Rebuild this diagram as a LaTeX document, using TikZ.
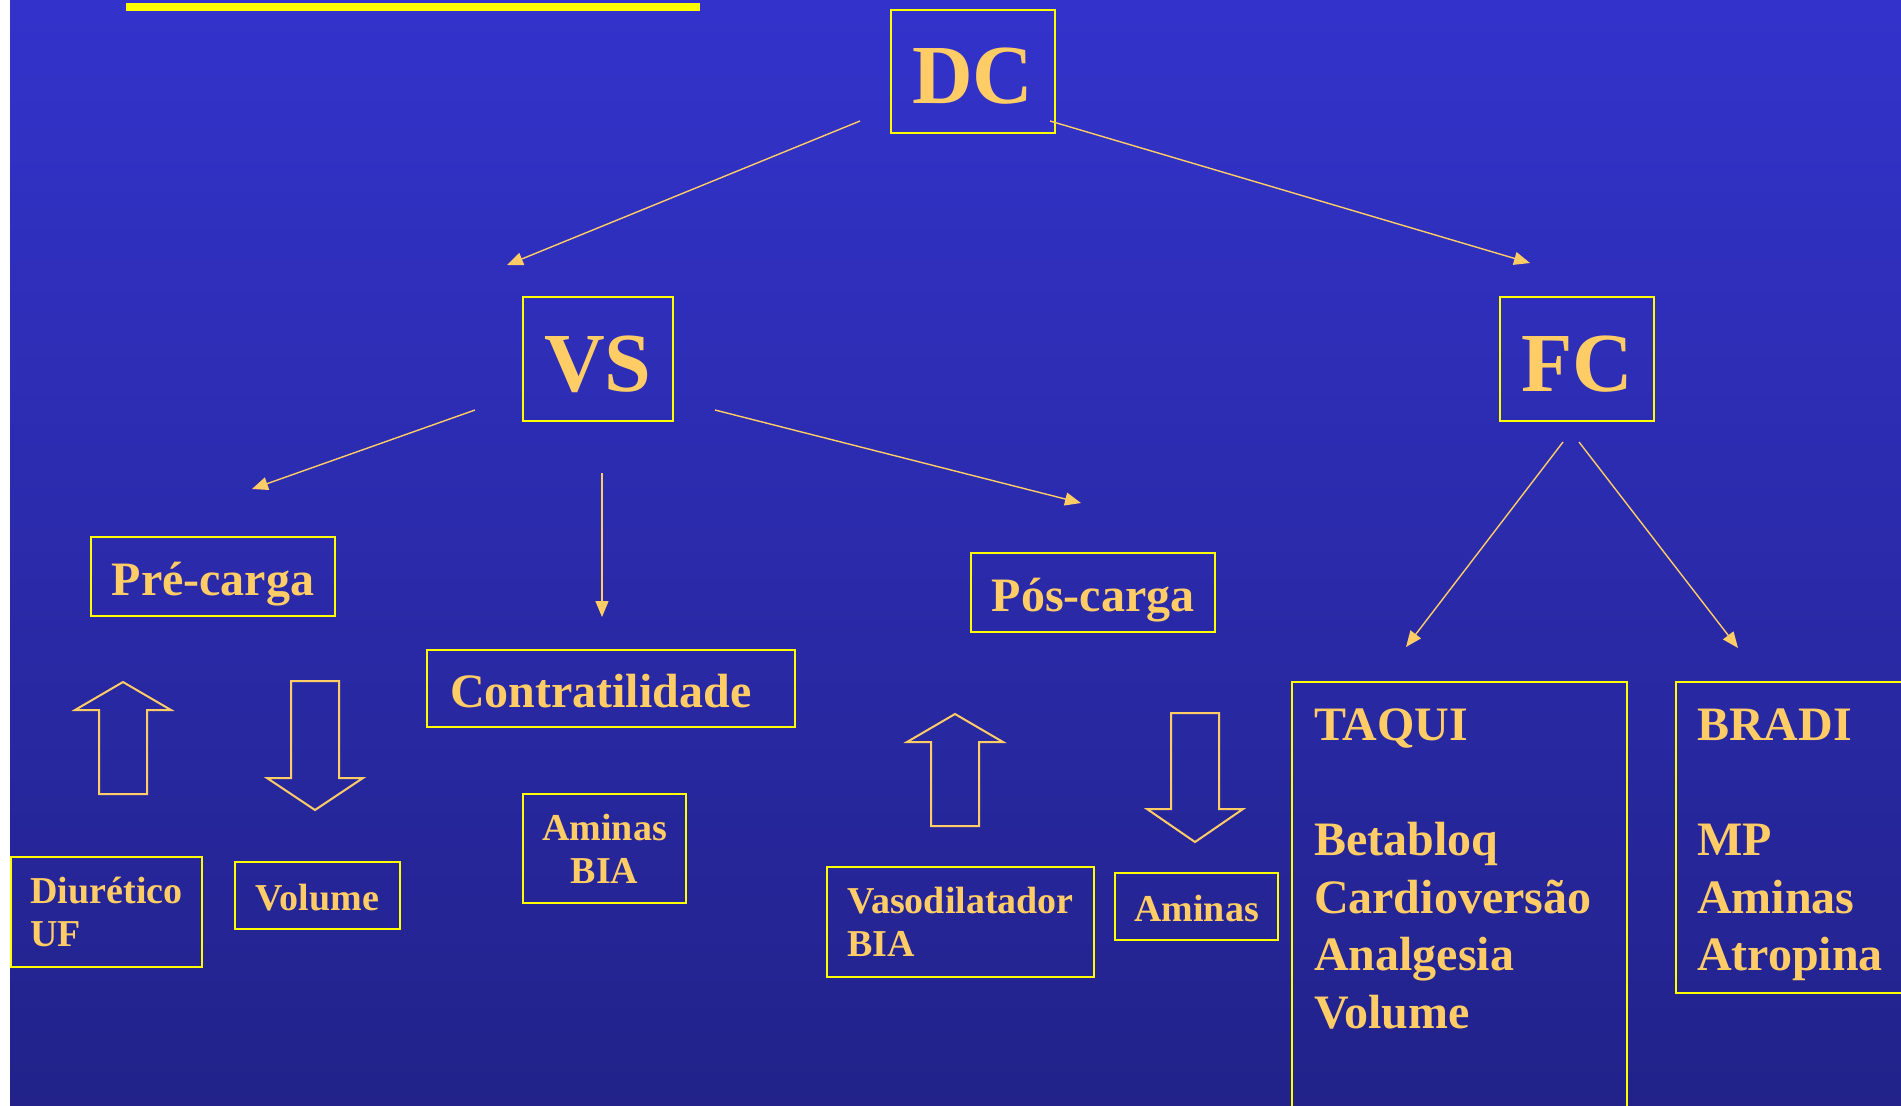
\documentclass[tikz,border=0pt]{standalone}
\usepackage{fontspec}
\setmainfont{Liberation Serif}
\usetikzlibrary{arrows.meta}
\definecolor{slidetop}{RGB}{51,51,204}
\definecolor{slidebot}{RGB}{34,34,138}
\definecolor{gold}{RGB}{255,204,102}
\definecolor{frame}{RGB}{255,255,0}
\begin{document}
\begin{tikzpicture}[x=0.5pt,y=-0.5pt,
  box/.style={draw=frame, line width=1pt, inner sep=0pt, text=gold, font=\bfseries},
  big/.style={box, font=\fontsize{42}{48}\selectfont\bfseries, text height=32pt, text depth=0pt, minimum height=62pt},
  mid/.style={box, font=\fontsize{24}{28}\selectfont\bfseries, text height=18.5pt, text depth=0pt, minimum height=39.5pt},
  small/.style={box, font=\fontsize{19}{21.5}\selectfont\bfseries},
  list/.style={box, anchor=north west, inner xsep=11pt, inner ysep=0pt, font=\fontsize{24}{28.75}\selectfont\bfseries},
  link/.style={draw=gold, line width=0.7pt, -{Triangle[length=8pt,width=6.5pt]}},
  hollow/.style={draw=gold, line width=1pt, line join=miter}]
\useasboundingbox (0,0) rectangle (1901,1105);
\clip (0,0) rectangle (1901,1105);
\fill[white] (0,0) rectangle (10,1105);
\shade[top color=slidetop, bottom color=slidebot] (10,0) rectangle (1901,1105);
\fill[frame] (126,3) rectangle (700,11);

\node[big, minimum width=82pt, minimum height=61.5pt] (dc) at (973,71.5) {DC};
\node[big, minimum width=75pt] (vs) at (598,359) {VS};
\node[big, minimum width=77pt] (fc) at (1577,359) {FC};

\node[mid, minimum width=122pt] (pre) at (213,576.5) {Pré-carga};
\node[mid, text width=161pt, inner xsep=11.5pt, align=left, minimum height=38.5pt] (contr) at (611,688.5) {Contratilidade};
\node[mid, minimum width=122pt] (pos) at (1093,592.5) {Pós-carga};

\node[small, minimum width=95.5pt, minimum height=55pt, align=left] (diur) at (106.5,912) {Diurético\\UF};
\node[small, minimum width=82.5pt, minimum height=33.5pt, text height=15pt, text depth=0pt] (vol) at (317.5,895.5) {Volume};
\node[small, minimum width=81.5pt, minimum height=54.5pt, align=center] (amibia) at (604.5,848.5) {Aminas\\BIA};
\node[small, minimum width=133.5pt, minimum height=55pt, align=left] (vaso) at (960.5,922) {Vasodilatador\\BIA};
\node[small, minimum width=81.5pt, minimum height=33.5pt, text height=14.5pt, text depth=0pt] (amin) at (1196.5,906.5) {Aminas};

\node[list] (taqui) at (1291,681) {\parbox[t][217pt][t]{145.5pt}{\vspace*{13.6pt}TAQUI\\[28.75pt]Betabloq\\Cardioversão\\Analgesia\\Volume}};
\node[list, inner xsep=10.5pt] (bradi) at (1675,681) {\parbox[t][155.5pt][t]{100pt}{\vspace*{13.6pt}BRADI\\[28.75pt]MP\\Aminas\\Atropina}};

\coordinate (dc-w) at (860,121);
\coordinate (dc-e) at (1050,121);
\coordinate (vs-top) at (507,265);
\coordinate (fc-top) at (1530,263);
\coordinate (vs-w) at (475,410);
\coordinate (vs-s) at (602,473);
\coordinate (vs-e) at (715,410);
\coordinate (pre-top) at (252,489);
\coordinate (contr-top) at (602,617);
\coordinate (pos-top) at (1081,503);
\coordinate (fc-sw) at (1563,442);
\coordinate (fc-se) at (1579,442);
\coordinate (taqui-top) at (1406,647);
\coordinate (bradi-top) at (1738,648);

\draw[link] (dc-w) -- (vs-top);
\draw[link] (dc-e) -- (fc-top);
\draw[link] (vs-w) -- (pre-top);
\draw[link] (vs-s) -- (contr-top);
\draw[link] (vs-e) -- (pos-top);
\draw[link] (fc-sw) -- (taqui-top);
\draw[link] (fc-se) -- (bradi-top);

\draw[hollow] (123,682) -- ++(48,28) -- ++(-24,0) -- ++(0,84) -- ++(-48,0) -- ++(0,-84) -- ++(-24,0) -- cycle;
\draw[hollow] (291,681) -- ++(48,0) -- ++(0,97) -- ++(24,0) -- ++(-48,32) -- ++(-48,-32) -- ++(24,0) -- cycle;
\draw[hollow] (955,714) -- ++(48,28) -- ++(-24,0) -- ++(0,84) -- ++(-48,0) -- ++(0,-84) -- ++(-24,0) -- cycle;
\draw[hollow] (1171,713) -- ++(48,0) -- ++(0,96) -- ++(24,0) -- ++(-48,33) -- ++(-48,-33) -- ++(24,0) -- cycle;
\end{tikzpicture}
\end{document}
